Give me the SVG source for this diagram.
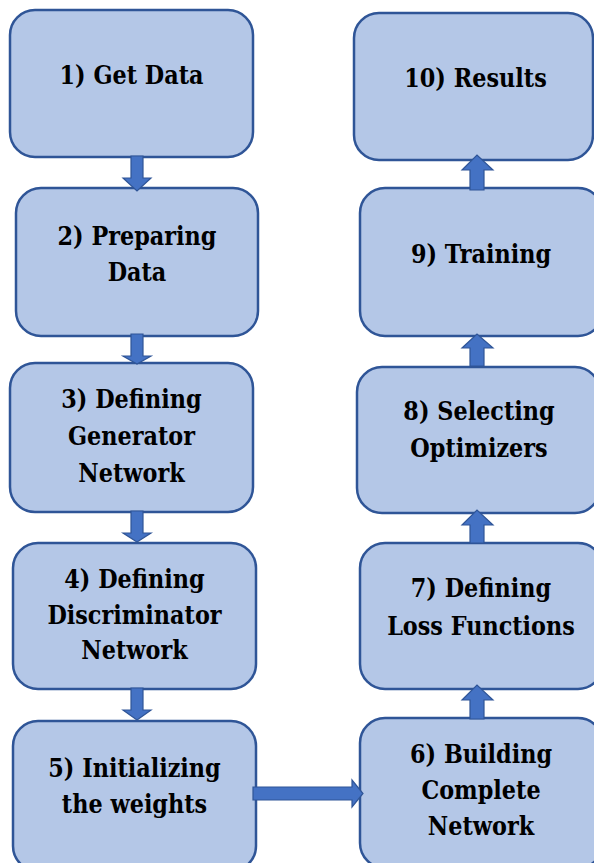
<svg xmlns="http://www.w3.org/2000/svg" width="594" height="863" viewBox="0 0 594 863">
  <style>
    .box { fill: #B4C7E7; stroke: #2F5597; stroke-width: 2.5; }
    /* bold serif labels, narrowed horizontally */
    .lbl { font-family: 'DejaVu Serif', serif; font-weight: bold; font-size: 26px; fill: #000; text-anchor: middle; }
    .arrow { fill: #4472C4; stroke: #2F5597; stroke-width: 1.2; stroke-linejoin: miter; }
  </style>
  <rect width="594" height="863" fill="#FFFFFF"/>

  <!-- left column: steps 1-5 -->
  <g id="step1">
    <rect class="box" x="10" y="10" width="243" height="147" rx="25"/>
    <text class="lbl" transform="translate(131.5 84) scale(0.86 1)">1) Get Data</text>
  </g>
  <g id="step2">
    <rect class="box" x="16" y="188" width="242" height="148" rx="25"/>
    <text class="lbl" transform="translate(137 245) scale(0.86 1)">2) Preparing</text>
    <text class="lbl" transform="translate(137 281) scale(0.86 1)">Data</text>
  </g>
  <g id="step3">
    <rect class="box" x="10" y="363" width="243" height="149" rx="25"/>
    <text class="lbl" transform="translate(131.5 408) scale(0.86 1)">3) Defining</text>
    <text class="lbl" transform="translate(131.5 445) scale(0.86 1)">Generator</text>
    <text class="lbl" transform="translate(131.5 482) scale(0.86 1)">Network</text>
  </g>
  <g id="step4">
    <rect class="box" x="13" y="543" width="243" height="146" rx="25"/>
    <text class="lbl" transform="translate(134.5 588) scale(0.86 1)">4) Defining</text>
    <text class="lbl" transform="translate(134.5 624) scale(0.86 1)">Discriminator</text>
    <text class="lbl" transform="translate(134.5 659) scale(0.86 1)">Network</text>
  </g>
  <g id="step5">
    <rect class="box" x="13" y="721" width="243" height="150" rx="25"/>
    <text class="lbl" transform="translate(134.5 777) scale(0.86 1)">5) Initializing</text>
    <text class="lbl" transform="translate(134.5 813) scale(0.86 1)">the weights</text>
  </g>

  <!-- right column: steps 6-10 -->
  <g id="step6">
    <rect class="box" x="360" y="718" width="243" height="150" rx="25"/>
    <text class="lbl" transform="translate(481 763) scale(0.86 1)">6) Building</text>
    <text class="lbl" transform="translate(481 799) scale(0.86 1)">Complete</text>
    <text class="lbl" transform="translate(481 835) scale(0.86 1)">Network</text>
  </g>
  <g id="step7">
    <rect class="box" x="360" y="543" width="243" height="146" rx="25"/>
    <text class="lbl" transform="translate(481 597) scale(0.86 1)">7) Defining</text>
    <text class="lbl" transform="translate(481 635) scale(0.86 1)">Loss Functions</text>
  </g>
  <g id="step8">
    <rect class="box" x="357" y="367" width="243" height="146" rx="25"/>
    <text class="lbl" transform="translate(479 420) scale(0.86 1)">8) Selecting</text>
    <text class="lbl" transform="translate(479 457) scale(0.86 1)">Optimizers</text>
  </g>
  <g id="step9">
    <rect class="box" x="360" y="188" width="243" height="148" rx="25"/>
    <text class="lbl" transform="translate(481 263) scale(0.86 1)">9) Training</text>
  </g>
  <g id="step10">
    <rect class="box" x="354" y="13" width="239" height="147" rx="25"/>
    <text class="lbl" transform="translate(475.5 87) scale(0.86 1)">10) Results</text>
  </g>

  <!-- block arrows between steps -->
  <g id="connectors">
    <polygon class="arrow" points="131,156 143,156 143,178 151,178 137,191 123,178 131,178"/>
    <polygon class="arrow" points="131,334 143,334 143,356 151,356 137,364 123,356 131,356"/>
    <polygon class="arrow" points="131,511 143,511 143,533 151,533 137,542 123,533 131,533"/>
    <polygon class="arrow" points="131,688 143,688 143,710 151,710 137,720 123,710 131,710"/>
    <polygon class="arrow" points="253,787 352,787 352,780 363,793.5 352,807 352,800 253,800"/>
    <polygon class="arrow" points="470,719 484,719 484,700 493,700 477,685 462,700 470,700"/>
    <polygon class="arrow" points="470,543 484,543 484,525 493,525 477,510 462,525 470,525"/>
    <polygon class="arrow" points="470,366 484,366 484,348 493,348 477,334 462,348 470,348"/>
    <polygon class="arrow" points="470,190 484,190 484,170 493,170 477,155 462,170 470,170"/>
  </g>
</svg>
